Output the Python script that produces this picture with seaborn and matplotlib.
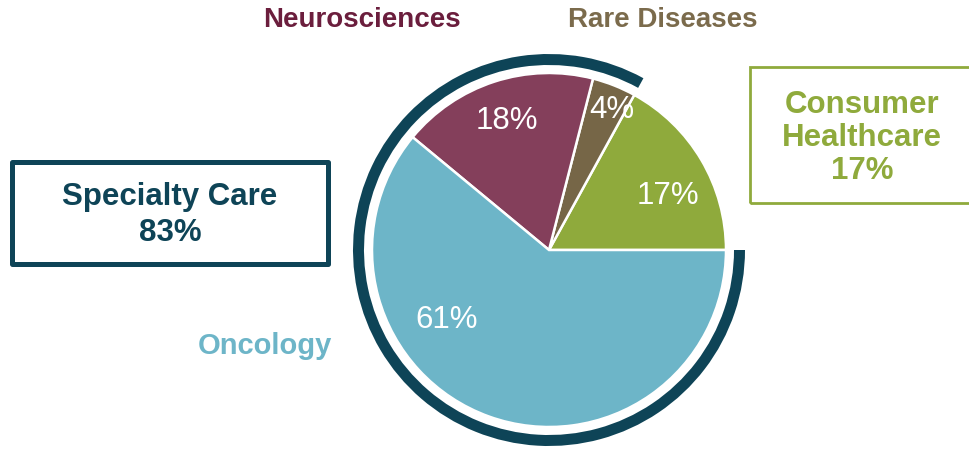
import matplotlib.pyplot as plt
import seaborn as sns
import numpy as np
from matplotlib.patches import Rectangle

# segments, counter-clockwise from 3 o'clock
segments = ["Consumer Healthcare", "Rare Diseases", "Neurosciences", "Oncology"]
shares = [17, 4, 18, 61]
pct_labels = ["17%", "4%", "18%", "61%"]

# outer ring: consumer vs specialty care
groups = ["Consumer Healthcare", "Specialty Care"]
group_shares = [17, 83]

wedge_colors = ["#8faa3c", "#766647", "#843f5b", "#6db5c8"]
ring_color = "#0e4457"

sns.set_theme(style="white")
plt.rcParams["font.family"] = ["Liberation Sans", "DejaVu Sans"]

W, H = 969, 452
fig = plt.figure(figsize=(W / 100, H / 100), dpi=100)
ax = fig.add_axes([0, 0, 1, 1])

cx, cy, r = 549, H - 251, 177

wedges, _ = ax.pie(
    shares, colors=wedge_colors, startangle=0, counterclock=True,
    center=(cx, cy), radius=r, frame=False,
    wedgeprops=dict(edgecolor="white", linewidth=1.8),
)
ax.pie(
    group_shares, colors=["none", ring_color], startangle=0, counterclock=True,
    center=(cx, cy), radius=196, frame=False,
    wedgeprops=dict(width=11, linewidth=0),
)

# percentage labels inside wedges
label_angle = [25, 66, 108, 214]
label_dist = [0.74, 0.87, 0.77, 0.70]
for txt, ang, d in zip(pct_labels, label_angle, label_dist):
    a = np.deg2rad(ang)
    ax.text(cx + d * r * np.cos(a), cy + d * r * np.sin(a), txt,
            color="white", fontsize=22.5, ha="center", va="center")

# category names
ax.text(362, H - 20, "Neurosciences", color="#6b1e3d", fontsize=20,
        fontweight="bold", ha="center", va="center")
ax.text(663, H - 20, "Rare Diseases", color="#7b6b4c", fontsize=20,
        fontweight="bold", ha="center", va="center")
ax.text(265, H - 346, "Oncology", color="#6db5c8", fontsize=21,
        fontweight="bold", ha="center", va="center")

# boxes
ax.add_patch(Rectangle((12, H - 265), 316, 102, fill=False,
                       edgecolor=ring_color, linewidth=3.6, joinstyle="round"))
ax.text(170, H - 215, "Specialty Care\n83%", color=ring_color, fontsize=22.5,
        fontweight="bold", ha="center", va="center", linespacing=1.3)

ax.add_patch(Rectangle((750, H - 204), 240, 136, fill=False,
                       edgecolor="#8faa3c", linewidth=2))
ax.text(862, H - 138, "Consumer\nHealthcare\n17%", color="#8faa3c",
        fontsize=22.5, fontweight="bold", ha="center", va="center",
        linespacing=1.15)

ax.set_xlim(0, W)
ax.set_ylim(0, H)
ax.set_aspect("equal")
ax.axis("off")

fig.savefig("out.png", dpi=100)
